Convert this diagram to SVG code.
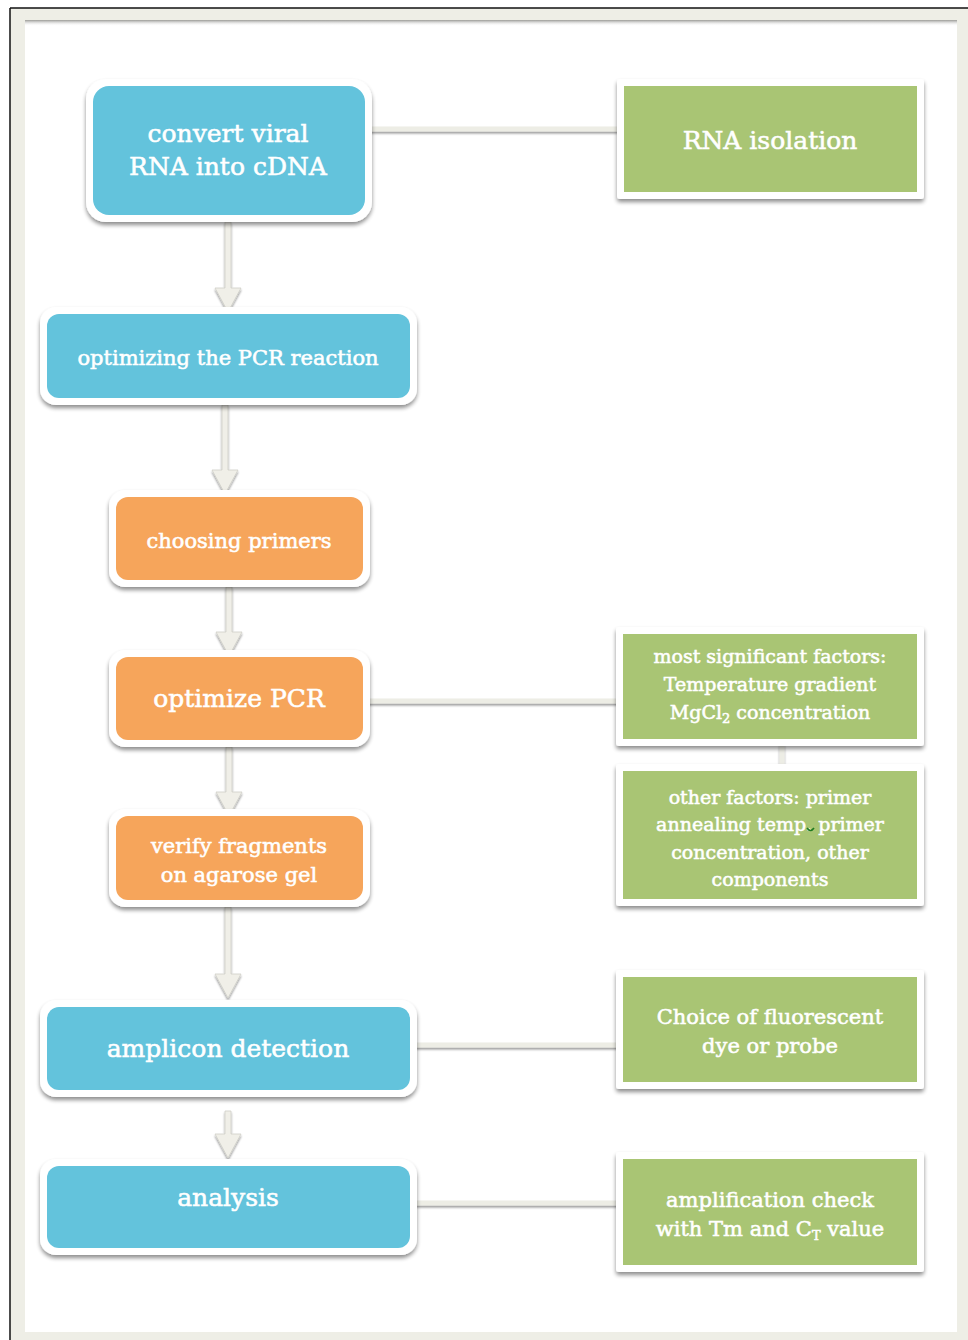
<svg xmlns="http://www.w3.org/2000/svg" width="968" height="1340" viewBox="0 0 968 1340">
<defs>
<filter id="sh" x="-10%" y="-15%" width="120%" height="140%">
<feGaussianBlur in="SourceAlpha" stdDeviation="2.2"/>
<feOffset dx="0" dy="3" result="b"/>
<feComponentTransfer><feFuncA type="linear" slope="0.45"/></feComponentTransfer>
<feMerge><feMergeNode/><feMergeNode in="SourceGraphic"/></feMerge>
</filter>
<filter id="lsh" x="-5%" y="-50%" width="110%" height="300%">
<feGaussianBlur in="SourceAlpha" stdDeviation="1"/>
<feOffset dx="0" dy="2"/>
<feComponentTransfer><feFuncA type="linear" slope="0.4"/></feComponentTransfer>
<feMerge><feMergeNode/><feMergeNode in="SourceGraphic"/></feMerge>
</filter>
<linearGradient id="topsh" x1="0" y1="0" x2="0" y2="1">
<stop offset="0" stop-color="#9a9a96"/>
<stop offset="1" stop-color="#ffffff" stop-opacity="0"/>
</linearGradient>
<style>
.wb{fill:#ffffff;filter:url(#sh)}
.blue{fill:#63C3DC}
.orange{fill:#F6A55B}
.green{fill:#A9C574}
.t{font-family:"DejaVu Serif","Liberation Serif",serif;fill:#ffffff;stroke:#ffffff;stroke-width:0.55;text-anchor:middle}
.L{font-size:25px}
.M{font-size:21px}
.S{font-size:19px}
.con{stroke:#EDEDE5;stroke-width:5;fill:none}
.arr{fill:#F0EFE8;stroke:#cfcfc8;stroke-width:0.8}
</style>
</defs>

<!-- page frame -->
<rect x="0" y="0" width="968" height="1340" fill="#ffffff"/>
<rect x="10" y="8" width="958" height="1332" fill="#EEEEE6"/>
<rect x="25" y="20" width="932" height="1312" fill="#ffffff"/>
<rect x="25" y="20" width="932" height="6" fill="url(#topsh)"/>
<line x1="10" y1="8" x2="968" y2="8" stroke="#111" stroke-width="1.5"/>
<line x1="10" y1="8" x2="10" y2="1340" stroke="#111" stroke-width="1.5"/>

<!-- connectors -->
<g id="connectors" filter="url(#lsh)">
<line class="con" x1="370" y1="129" x2="618" y2="129"/>
<line class="con" x1="368" y1="701" x2="618" y2="701"/>
<line class="con" x1="416" y1="1045" x2="618" y2="1045"/>
<line class="con" x1="416" y1="1203" x2="618" y2="1203"/>
<line class="con" x1="782" y1="744" x2="782" y2="767"/>
<path class="arr" d="M225 222 L231 222 L231 288 L241 288 L228 312 L215 288 L225 288 Z"/>
<path class="arr" d="M222 405 L228 405 L228 470 L238 470 L225 494 L212 470 L222 470 Z"/>
<path class="arr" d="M226 587 L232 587 L232 632 L242 632 L229 656 L216 632 L226 632 Z"/>
<path class="arr" d="M226 747 L232 747 L232 792 L242 792 L229 816 L216 792 L226 792 Z"/>
<path class="arr" d="M225 907 L231 907 L231 974 L241 974 L228 998 L215 974 L225 974 Z"/>
<path class="arr" d="M225 1111 L231 1111 L231 1134 L241 1134 L228 1158 L215 1134 L225 1134 Z"/>
</g>

<g id="n-convert">
<rect class="wb" x="86" y="79" width="286" height="143" rx="20"/>
<rect class="blue" x="93" y="86" width="272" height="129" rx="16"/>
<text class="t L" x="228" y="142">convert viral</text>
<text class="t L" x="228" y="175">RNA into cDNA</text>
</g>

<g id="n-rna">
<rect class="wb" x="617" y="79" width="307" height="120" rx="3"/>
<rect class="green" x="624" y="86" width="293" height="106"/>
<text class="t L" x="770" y="149">RNA isolation</text>
</g>

<g id="n-optreaction">
<rect class="wb" x="40" y="307" width="377" height="98" rx="16"/>
<rect class="blue" x="47" y="314" width="363" height="84" rx="12"/>
<text class="t M" x="228" y="365">optimizing the PCR reaction</text>
</g>

<g id="n-primers">
<rect class="wb" x="109" y="490" width="261" height="97" rx="16"/>
<rect class="orange" x="116" y="497" width="247" height="83" rx="12"/>
<text class="t M" x="239" y="548">choosing primers</text>
</g>

<g id="n-optpcr">
<rect class="wb" x="109" y="650" width="261" height="97" rx="16"/>
<rect class="orange" x="116" y="657" width="247" height="83" rx="12"/>
<text class="t L" x="239" y="707">optimize PCR</text>
</g>

<g id="n-verify">
<rect class="wb" x="109" y="809" width="261" height="98" rx="16"/>
<rect class="orange" x="116" y="816" width="247" height="84" rx="12"/>
<text class="t M" x="239" y="853">verify fragments</text>
<text class="t M" x="239" y="882">on agarose gel</text>
</g>

<g id="n-amplicon">
<rect class="wb" x="40" y="1000" width="377" height="97" rx="16"/>
<rect class="blue" x="47" y="1007" width="363" height="83" rx="12"/>
<text class="t L" x="228" y="1057">amplicon detection</text>
</g>

<g id="n-analysis">
<rect class="wb" x="40" y="1159" width="377" height="96" rx="16"/>
<rect class="blue" x="47" y="1166" width="363" height="82" rx="12"/>
<text class="t L" x="228" y="1206">analysis</text>
</g>

<g id="n-significant">
<rect class="wb" x="616" y="627" width="308" height="119" rx="3"/>
<rect class="green" x="623" y="634" width="294" height="105"/>
<text class="t S" x="770" y="663">most significant factors:</text>
<text class="t S" x="770" y="691">Temperature gradient</text>
<text class="t S" x="770" y="719">MgCl<tspan font-size="13" dy="4">2</tspan><tspan dy="-4"> concentration</tspan></text>
</g>

<g id="n-other">
<rect class="wb" x="616" y="764" width="308" height="142" rx="3"/>
<rect class="green" x="623" y="771" width="294" height="128"/>
<text class="t S" x="770" y="804">other factors: primer</text>
<text class="t S" x="770" y="831">annealing temp. primer</text>
<path d="M807 828 q3.5 5 7 0" stroke="#1f7a1f" stroke-width="1.6" fill="none"/>
<text class="t S" x="770" y="859">concentration, other</text>
<text class="t S" x="770" y="886">components</text>
</g>

<g id="n-choice">
<rect class="wb" x="616" y="970" width="308" height="119" rx="3"/>
<rect class="green" x="623" y="977" width="294" height="105"/>
<text class="t M" x="770" y="1024">Choice of  fluorescent</text>
<text class="t M" x="770" y="1053">dye or probe</text>
</g>

<g id="n-ampcheck">
<rect class="wb" x="616" y="1152" width="308" height="120" rx="3"/>
<rect class="green" x="623" y="1159" width="294" height="106"/>
<text class="t M" x="770" y="1207">amplification check</text>
<text class="t M" x="770" y="1236">with Tm and C<tspan font-size="13" dy="4">T</tspan><tspan dy="-4"> value</tspan></text>
</g>
</svg>
